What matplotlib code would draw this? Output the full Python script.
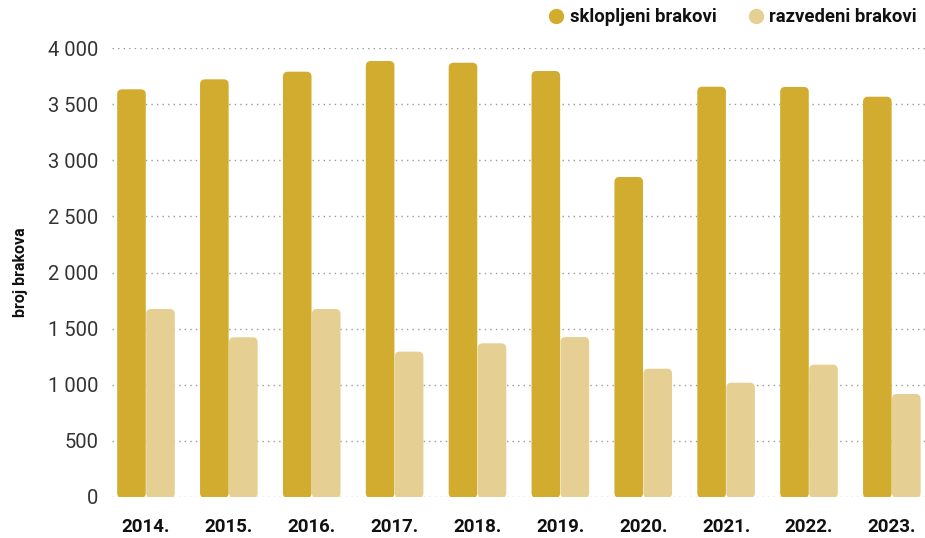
import matplotlib
matplotlib.use("Agg")
import matplotlib.pyplot as plt
from matplotlib.patches import FancyBboxPatch
from matplotlib.lines import Line2D
from matplotlib.ticker import FuncFormatter

plt.rcParams['font.family'] = ['Roboto', 'DejaVu Sans']

years = ["2014.", "2015.", "2016.", "2017.", "2018.", "2019.", "2020.", "2021.", "2022.", "2023."]
sklopljeni = [3632, 3721, 3789, 3884, 3869, 3795, 2851, 3655, 3653, 3566]
razvedeni = [1675, 1423, 1675, 1295, 1369, 1425, 1143, 1018, 1179, 918]
series_names = ["sklopljeni brakovi", "razvedeni brakovi"]

DARK, LIGHT = "#D1AC2E", "#E5CF92"
W_PX, H_PX = 925, 538

fig = plt.figure(figsize=(W_PX / 100, H_PX / 100), dpi=100)
ax = fig.add_axes([112 / W_PX, 1 - 497 / H_PX, (925 - 112) / W_PX, (497 - 48) / H_PX])

x = list(range(len(years)))
w = 0.345
b1 = ax.bar([i - 0.175 for i in x], sklopljeni, w, color=DARK, zorder=2)
b2 = ax.bar([i + 0.175 for i in x], razvedeni, w, color=LIGHT, zorder=2)

ax.set_xlim(-0.41, 9.40)
ax.set_ylim(0, 4000)

# zaobljeni stupci: pravokutnike zamijeni s FancyBboxPatch
fig.canvas.draw()
ppx = (ax.get_xlim()[1] - ax.get_xlim()[0]) / ax.bbox.width
ppy = (ax.get_ylim()[1] - ax.get_ylim()[0]) / ax.bbox.height
r = 5 * ppx
for bars in (b1, b2):
    for p in bars:
        bx, by = p.get_x(), p.get_y()
        bw, bh = p.get_width(), p.get_height()
        fb = FancyBboxPatch((bx, by - 1 * ppy), bw, bh + 1 * ppy,
                            boxstyle=f"round,pad=0,rounding_size={r}",
                            mutation_aspect=ppy / ppx,
                            fc=p.get_facecolor(), ec="none", zorder=2)
        p.remove()
        ax.add_patch(fb)

ax.yaxis.set_major_formatter(FuncFormatter(lambda v, _: f"{int(v):,}".replace(",", " ")))
ax.set_yticks(range(0, 4001, 500))
ax.set_xticks(x)
ax.set_xticklabels(years, fontsize=13.5, fontweight="bold", color="#111111")
ax.tick_params(axis="y", length=0, pad=10, labelsize=14.5, labelcolor="#333333")
ax.tick_params(axis="x", length=0, pad=15)

ax.grid(axis="y", linestyle=(0, (1, 3)), color="#999999", linewidth=1, zorder=0)
ax.set_axisbelow(True)
for s in ax.spines.values():
    s.set_visible(False)

ax.set_ylabel("broj brakova", fontsize=11.5, fontweight="bold", color="#111111")
ax.yaxis.set_label_coords(-0.103, 0.5)

handles = [Line2D([], [], marker="o", linestyle="none", markersize=10, color=c)
           for c in (DARK, LIGHT)]
fig.legend(handles, series_names, loc="upper right", bbox_to_anchor=(917 / W_PX, 1 - 8 / H_PX),
           ncol=2, frameon=False, handlelength=0.8, handletextpad=0.35, columnspacing=1.7,
           borderpad=0, borderaxespad=0,
           prop={"weight": "bold", "size": 13.3}, labelcolor="#111111")

fig.savefig("out.png", dpi=100)
